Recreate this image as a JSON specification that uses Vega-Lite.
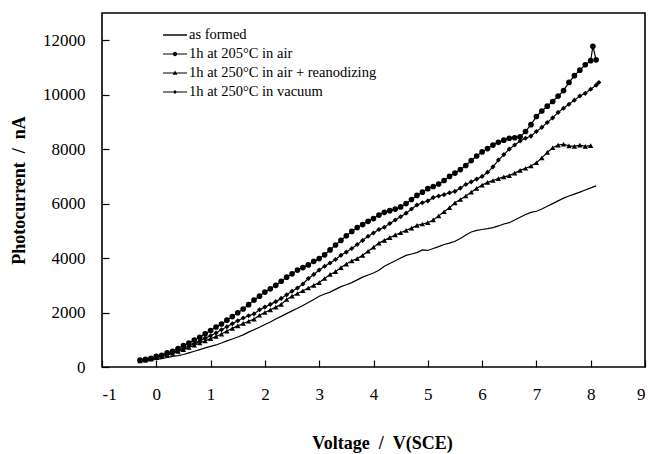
{
  "$schema": "https://vega.github.io/schema/vega-lite/v6.json",
  "width": 543,
  "height": 354,
  "autosize": {"type": "none"},
  "padding": {"left": 102, "top": 13, "right": 5, "bottom": 87},
  "background": "white",
  "config": {
    "font": "Liberation Serif",
    "view": {"stroke": "black", "strokeWidth": 1.6},
    "axis": {
      "grid": false, "domain": false, "tickColor": "black", "tickSize": -7, "tickWidth": 1.2,
      "labelFont": "Liberation Serif", "labelFontSize": 17, "labelColor": "black",
      "titleFont": "Liberation Serif", "titleFontSize": 18, "titleFontWeight": "bold", "titleColor": "black"
    }
  },
  "datasets": {
    "pts": [
      {"s":"as formed","v":-0.3,"i":200},{"s":"as formed","v":-0.2,"i":220},{"s":"as formed","v":-0.1,"i":250},{"s":"as formed","v":0,"i":280},{"s":"as formed","v":0.1,"i":310},{"s":"as formed","v":0.2,"i":350},{"s":"as formed","v":0.3,"i":390},{"s":"as formed","v":0.4,"i":420},{"s":"as formed","v":0.5,"i":460},{"s":"as formed","v":0.6,"i":520},{"s":"as formed","v":0.7,"i":580},{"s":"as formed","v":0.8,"i":640},{"s":"as formed","v":0.9,"i":700},{"s":"as formed","v":1.0,"i":760},{"s":"as formed","v":1.1,"i":810},{"s":"as formed","v":1.2,"i":880},{"s":"as formed","v":1.3,"i":960},{"s":"as formed","v":1.4,"i":1030},{"s":"as formed","v":1.5,"i":1100},{"s":"as formed","v":1.6,"i":1180},{"s":"as formed","v":1.7,"i":1280},{"s":"as formed","v":1.8,"i":1370},{"s":"as formed","v":1.9,"i":1460},{"s":"as formed","v":2.0,"i":1560},{"s":"as formed","v":2.1,"i":1650},{"s":"as formed","v":2.2,"i":1760},{"s":"as formed","v":2.3,"i":1860},{"s":"as formed","v":2.4,"i":1960},{"s":"as formed","v":2.5,"i":2060},{"s":"as formed","v":2.6,"i":2160},{"s":"as formed","v":2.7,"i":2260},{"s":"as formed","v":2.8,"i":2370},{"s":"as formed","v":2.9,"i":2480},{"s":"as formed","v":3.0,"i":2600},{"s":"as formed","v":3.1,"i":2680},{"s":"as formed","v":3.2,"i":2750},{"s":"as formed","v":3.3,"i":2850},{"s":"as formed","v":3.4,"i":2950},{"s":"as formed","v":3.5,"i":3020},{"s":"as formed","v":3.6,"i":3100},{"s":"as formed","v":3.7,"i":3200},{"s":"as formed","v":3.8,"i":3300},{"s":"as formed","v":3.9,"i":3380},{"s":"as formed","v":4.0,"i":3450},{"s":"as formed","v":4.1,"i":3550},{"s":"as formed","v":4.2,"i":3700},{"s":"as formed","v":4.3,"i":3800},{"s":"as formed","v":4.4,"i":3900},{"s":"as formed","v":4.5,"i":4000},{"s":"as formed","v":4.6,"i":4100},{"s":"as formed","v":4.7,"i":4150},{"s":"as formed","v":4.8,"i":4200},{"s":"as formed","v":4.9,"i":4300},{"s":"as formed","v":5.0,"i":4280},{"s":"as formed","v":5.1,"i":4350},{"s":"as formed","v":5.2,"i":4420},{"s":"as formed","v":5.3,"i":4500},{"s":"as formed","v":5.4,"i":4550},{"s":"as formed","v":5.5,"i":4620},{"s":"as formed","v":5.6,"i":4720},{"s":"as formed","v":5.7,"i":4850},{"s":"as formed","v":5.8,"i":4960},{"s":"as formed","v":5.9,"i":5020},{"s":"as formed","v":6.0,"i":5050},{"s":"as formed","v":6.1,"i":5080},{"s":"as formed","v":6.2,"i":5120},{"s":"as formed","v":6.3,"i":5180},{"s":"as formed","v":6.4,"i":5250},{"s":"as formed","v":6.5,"i":5300},{"s":"as formed","v":6.6,"i":5400},{"s":"as formed","v":6.7,"i":5500},{"s":"as formed","v":6.8,"i":5600},{"s":"as formed","v":6.9,"i":5680},{"s":"as formed","v":7.0,"i":5720},{"s":"as formed","v":7.1,"i":5800},{"s":"as formed","v":7.2,"i":5900},{"s":"as formed","v":7.3,"i":6000},{"s":"as formed","v":7.4,"i":6100},{"s":"as formed","v":7.5,"i":6200},{"s":"as formed","v":7.6,"i":6280},{"s":"as formed","v":7.7,"i":6350},{"s":"as formed","v":7.8,"i":6420},{"s":"as formed","v":7.9,"i":6500},{"s":"as formed","v":8.0,"i":6580},{"s":"as formed","v":8.1,"i":6650},

      {"s":"1h at 205°C in air","v":-0.3,"i":250},{"s":"1h at 205°C in air","v":-0.2,"i":280},{"s":"1h at 205°C in air","v":-0.1,"i":320},{"s":"1h at 205°C in air","v":0,"i":390},{"s":"1h at 205°C in air","v":0.1,"i":430},{"s":"1h at 205°C in air","v":0.2,"i":520},{"s":"1h at 205°C in air","v":0.3,"i":580},{"s":"1h at 205°C in air","v":0.4,"i":680},{"s":"1h at 205°C in air","v":0.5,"i":790},{"s":"1h at 205°C in air","v":0.6,"i":880},{"s":"1h at 205°C in air","v":0.7,"i":990},{"s":"1h at 205°C in air","v":0.8,"i":1090},{"s":"1h at 205°C in air","v":0.9,"i":1220},{"s":"1h at 205°C in air","v":1.0,"i":1340},{"s":"1h at 205°C in air","v":1.1,"i":1470},{"s":"1h at 205°C in air","v":1.2,"i":1580},{"s":"1h at 205°C in air","v":1.3,"i":1720},{"s":"1h at 205°C in air","v":1.4,"i":1850},{"s":"1h at 205°C in air","v":1.5,"i":1990},{"s":"1h at 205°C in air","v":1.6,"i":2130},{"s":"1h at 205°C in air","v":1.7,"i":2290},{"s":"1h at 205°C in air","v":1.8,"i":2460},{"s":"1h at 205°C in air","v":1.9,"i":2600},{"s":"1h at 205°C in air","v":2.0,"i":2750},{"s":"1h at 205°C in air","v":2.1,"i":2870},{"s":"1h at 205°C in air","v":2.2,"i":3000},{"s":"1h at 205°C in air","v":2.3,"i":3150},{"s":"1h at 205°C in air","v":2.4,"i":3300},{"s":"1h at 205°C in air","v":2.5,"i":3420},{"s":"1h at 205°C in air","v":2.6,"i":3560},{"s":"1h at 205°C in air","v":2.7,"i":3650},{"s":"1h at 205°C in air","v":2.8,"i":3750},{"s":"1h at 205°C in air","v":2.9,"i":3880},{"s":"1h at 205°C in air","v":3.0,"i":3980},{"s":"1h at 205°C in air","v":3.1,"i":4120},{"s":"1h at 205°C in air","v":3.2,"i":4300},{"s":"1h at 205°C in air","v":3.3,"i":4480},{"s":"1h at 205°C in air","v":3.4,"i":4650},{"s":"1h at 205°C in air","v":3.5,"i":4820},{"s":"1h at 205°C in air","v":3.6,"i":4980},{"s":"1h at 205°C in air","v":3.7,"i":5120},{"s":"1h at 205°C in air","v":3.8,"i":5230},{"s":"1h at 205°C in air","v":3.9,"i":5350},{"s":"1h at 205°C in air","v":4.0,"i":5450},{"s":"1h at 205°C in air","v":4.1,"i":5580},{"s":"1h at 205°C in air","v":4.2,"i":5680},{"s":"1h at 205°C in air","v":4.3,"i":5740},{"s":"1h at 205°C in air","v":4.4,"i":5800},{"s":"1h at 205°C in air","v":4.5,"i":5880},{"s":"1h at 205°C in air","v":4.6,"i":6000},{"s":"1h at 205°C in air","v":4.7,"i":6150},{"s":"1h at 205°C in air","v":4.8,"i":6300},{"s":"1h at 205°C in air","v":4.9,"i":6420},{"s":"1h at 205°C in air","v":5.0,"i":6550},{"s":"1h at 205°C in air","v":5.1,"i":6630},{"s":"1h at 205°C in air","v":5.2,"i":6720},{"s":"1h at 205°C in air","v":5.3,"i":6850},{"s":"1h at 205°C in air","v":5.4,"i":7000},{"s":"1h at 205°C in air","v":5.5,"i":7120},{"s":"1h at 205°C in air","v":5.6,"i":7250},{"s":"1h at 205°C in air","v":5.7,"i":7400},{"s":"1h at 205°C in air","v":5.8,"i":7580},{"s":"1h at 205°C in air","v":5.9,"i":7750},{"s":"1h at 205°C in air","v":6.0,"i":7900},{"s":"1h at 205°C in air","v":6.1,"i":8020},{"s":"1h at 205°C in air","v":6.2,"i":8150},{"s":"1h at 205°C in air","v":6.3,"i":8250},{"s":"1h at 205°C in air","v":6.4,"i":8330},{"s":"1h at 205°C in air","v":6.5,"i":8400},{"s":"1h at 205°C in air","v":6.6,"i":8420},{"s":"1h at 205°C in air","v":6.7,"i":8450},{"s":"1h at 205°C in air","v":6.8,"i":8650},{"s":"1h at 205°C in air","v":6.9,"i":8900},{"s":"1h at 205°C in air","v":7.0,"i":9200},{"s":"1h at 205°C in air","v":7.1,"i":9400},{"s":"1h at 205°C in air","v":7.2,"i":9580},{"s":"1h at 205°C in air","v":7.3,"i":9750},{"s":"1h at 205°C in air","v":7.4,"i":9950},{"s":"1h at 205°C in air","v":7.5,"i":10150},{"s":"1h at 205°C in air","v":7.6,"i":10450},{"s":"1h at 205°C in air","v":7.7,"i":10700},{"s":"1h at 205°C in air","v":7.8,"i":10900},{"s":"1h at 205°C in air","v":7.9,"i":11100},{"s":"1h at 205°C in air","v":8.0,"i":11250},{"s":"1h at 205°C in air","v":8.04,"i":11780},{"s":"1h at 205°C in air","v":8.1,"i":11280},

      {"s":"1h at 250°C in air + reanodizing","v":-0.3,"i":220},{"s":"1h at 250°C in air + reanodizing","v":-0.2,"i":250},{"s":"1h at 250°C in air + reanodizing","v":-0.1,"i":290},{"s":"1h at 250°C in air + reanodizing","v":0,"i":340},{"s":"1h at 250°C in air + reanodizing","v":0.1,"i":390},{"s":"1h at 250°C in air + reanodizing","v":0.2,"i":440},{"s":"1h at 250°C in air + reanodizing","v":0.3,"i":500},{"s":"1h at 250°C in air + reanodizing","v":0.4,"i":570},{"s":"1h at 250°C in air + reanodizing","v":0.5,"i":640},{"s":"1h at 250°C in air + reanodizing","v":0.6,"i":720},{"s":"1h at 250°C in air + reanodizing","v":0.7,"i":800},{"s":"1h at 250°C in air + reanodizing","v":0.8,"i":880},{"s":"1h at 250°C in air + reanodizing","v":0.9,"i":960},{"s":"1h at 250°C in air + reanodizing","v":1.0,"i":1040},{"s":"1h at 250°C in air + reanodizing","v":1.1,"i":1120},{"s":"1h at 250°C in air + reanodizing","v":1.2,"i":1210},{"s":"1h at 250°C in air + reanodizing","v":1.3,"i":1320},{"s":"1h at 250°C in air + reanodizing","v":1.4,"i":1420},{"s":"1h at 250°C in air + reanodizing","v":1.5,"i":1510},{"s":"1h at 250°C in air + reanodizing","v":1.6,"i":1600},{"s":"1h at 250°C in air + reanodizing","v":1.7,"i":1680},{"s":"1h at 250°C in air + reanodizing","v":1.8,"i":1760},{"s":"1h at 250°C in air + reanodizing","v":1.9,"i":1900},{"s":"1h at 250°C in air + reanodizing","v":2.0,"i":2000},{"s":"1h at 250°C in air + reanodizing","v":2.1,"i":2100},{"s":"1h at 250°C in air + reanodizing","v":2.2,"i":2200},{"s":"1h at 250°C in air + reanodizing","v":2.3,"i":2300},{"s":"1h at 250°C in air + reanodizing","v":2.4,"i":2480},{"s":"1h at 250°C in air + reanodizing","v":2.5,"i":2600},{"s":"1h at 250°C in air + reanodizing","v":2.6,"i":2700},{"s":"1h at 250°C in air + reanodizing","v":2.7,"i":2800},{"s":"1h at 250°C in air + reanodizing","v":2.8,"i":2900},{"s":"1h at 250°C in air + reanodizing","v":2.9,"i":3000},{"s":"1h at 250°C in air + reanodizing","v":3.0,"i":3100},{"s":"1h at 250°C in air + reanodizing","v":3.1,"i":3250},{"s":"1h at 250°C in air + reanodizing","v":3.2,"i":3400},{"s":"1h at 250°C in air + reanodizing","v":3.3,"i":3500},{"s":"1h at 250°C in air + reanodizing","v":3.4,"i":3650},{"s":"1h at 250°C in air + reanodizing","v":3.5,"i":3780},{"s":"1h at 250°C in air + reanodizing","v":3.6,"i":3900},{"s":"1h at 250°C in air + reanodizing","v":3.7,"i":3980},{"s":"1h at 250°C in air + reanodizing","v":3.8,"i":4100},{"s":"1h at 250°C in air + reanodizing","v":3.9,"i":4250},{"s":"1h at 250°C in air + reanodizing","v":4.0,"i":4400},{"s":"1h at 250°C in air + reanodizing","v":4.1,"i":4550},{"s":"1h at 250°C in air + reanodizing","v":4.2,"i":4650},{"s":"1h at 250°C in air + reanodizing","v":4.3,"i":4750},{"s":"1h at 250°C in air + reanodizing","v":4.4,"i":4850},{"s":"1h at 250°C in air + reanodizing","v":4.5,"i":4930},{"s":"1h at 250°C in air + reanodizing","v":4.6,"i":5020},{"s":"1h at 250°C in air + reanodizing","v":4.7,"i":5100},{"s":"1h at 250°C in air + reanodizing","v":4.8,"i":5200},{"s":"1h at 250°C in air + reanodizing","v":4.9,"i":5250},{"s":"1h at 250°C in air + reanodizing","v":5.0,"i":5300},{"s":"1h at 250°C in air + reanodizing","v":5.1,"i":5400},{"s":"1h at 250°C in air + reanodizing","v":5.2,"i":5550},{"s":"1h at 250°C in air + reanodizing","v":5.3,"i":5700},{"s":"1h at 250°C in air + reanodizing","v":5.4,"i":5850},{"s":"1h at 250°C in air + reanodizing","v":5.5,"i":6030},{"s":"1h at 250°C in air + reanodizing","v":5.6,"i":6150},{"s":"1h at 250°C in air + reanodizing","v":5.7,"i":6280},{"s":"1h at 250°C in air + reanodizing","v":5.8,"i":6420},{"s":"1h at 250°C in air + reanodizing","v":5.9,"i":6560},{"s":"1h at 250°C in air + reanodizing","v":6.0,"i":6680},{"s":"1h at 250°C in air + reanodizing","v":6.1,"i":6780},{"s":"1h at 250°C in air + reanodizing","v":6.2,"i":6850},{"s":"1h at 250°C in air + reanodizing","v":6.3,"i":6920},{"s":"1h at 250°C in air + reanodizing","v":6.4,"i":6980},{"s":"1h at 250°C in air + reanodizing","v":6.5,"i":7030},{"s":"1h at 250°C in air + reanodizing","v":6.6,"i":7120},{"s":"1h at 250°C in air + reanodizing","v":6.7,"i":7220},{"s":"1h at 250°C in air + reanodizing","v":6.8,"i":7300},{"s":"1h at 250°C in air + reanodizing","v":6.9,"i":7380},{"s":"1h at 250°C in air + reanodizing","v":7.0,"i":7500},{"s":"1h at 250°C in air + reanodizing","v":7.1,"i":7680},{"s":"1h at 250°C in air + reanodizing","v":7.2,"i":7880},{"s":"1h at 250°C in air + reanodizing","v":7.3,"i":8050},{"s":"1h at 250°C in air + reanodizing","v":7.4,"i":8150},{"s":"1h at 250°C in air + reanodizing","v":7.5,"i":8180},{"s":"1h at 250°C in air + reanodizing","v":7.6,"i":8120},{"s":"1h at 250°C in air + reanodizing","v":7.7,"i":8100},{"s":"1h at 250°C in air + reanodizing","v":7.8,"i":8150},{"s":"1h at 250°C in air + reanodizing","v":7.9,"i":8100},{"s":"1h at 250°C in air + reanodizing","v":8.0,"i":8130},

      {"s":"1h at 250°C in vacuum","v":-0.3,"i":230},{"s":"1h at 250°C in vacuum","v":-0.2,"i":260},{"s":"1h at 250°C in vacuum","v":-0.1,"i":300},{"s":"1h at 250°C in vacuum","v":0,"i":350},{"s":"1h at 250°C in vacuum","v":0.1,"i":400},{"s":"1h at 250°C in vacuum","v":0.2,"i":460},{"s":"1h at 250°C in vacuum","v":0.3,"i":520},{"s":"1h at 250°C in vacuum","v":0.4,"i":600},{"s":"1h at 250°C in vacuum","v":0.5,"i":690},{"s":"1h at 250°C in vacuum","v":0.6,"i":770},{"s":"1h at 250°C in vacuum","v":0.7,"i":860},{"s":"1h at 250°C in vacuum","v":0.8,"i":950},{"s":"1h at 250°C in vacuum","v":0.9,"i":1060},{"s":"1h at 250°C in vacuum","v":1.0,"i":1150},{"s":"1h at 250°C in vacuum","v":1.1,"i":1250},{"s":"1h at 250°C in vacuum","v":1.2,"i":1370},{"s":"1h at 250°C in vacuum","v":1.3,"i":1480},{"s":"1h at 250°C in vacuum","v":1.4,"i":1590},{"s":"1h at 250°C in vacuum","v":1.5,"i":1700},{"s":"1h at 250°C in vacuum","v":1.6,"i":1800},{"s":"1h at 250°C in vacuum","v":1.7,"i":1880},{"s":"1h at 250°C in vacuum","v":1.8,"i":1950},{"s":"1h at 250°C in vacuum","v":1.9,"i":2100},{"s":"1h at 250°C in vacuum","v":2.0,"i":2200},{"s":"1h at 250°C in vacuum","v":2.1,"i":2300},{"s":"1h at 250°C in vacuum","v":2.2,"i":2400},{"s":"1h at 250°C in vacuum","v":2.3,"i":2520},{"s":"1h at 250°C in vacuum","v":2.4,"i":2650},{"s":"1h at 250°C in vacuum","v":2.5,"i":2780},{"s":"1h at 250°C in vacuum","v":2.6,"i":2900},{"s":"1h at 250°C in vacuum","v":2.7,"i":3050},{"s":"1h at 250°C in vacuum","v":2.8,"i":3250},{"s":"1h at 250°C in vacuum","v":2.9,"i":3400},{"s":"1h at 250°C in vacuum","v":3.0,"i":3560},{"s":"1h at 250°C in vacuum","v":3.1,"i":3700},{"s":"1h at 250°C in vacuum","v":3.2,"i":3820},{"s":"1h at 250°C in vacuum","v":3.3,"i":3950},{"s":"1h at 250°C in vacuum","v":3.4,"i":4100},{"s":"1h at 250°C in vacuum","v":3.5,"i":4220},{"s":"1h at 250°C in vacuum","v":3.6,"i":4350},{"s":"1h at 250°C in vacuum","v":3.7,"i":4500},{"s":"1h at 250°C in vacuum","v":3.8,"i":4650},{"s":"1h at 250°C in vacuum","v":3.9,"i":4800},{"s":"1h at 250°C in vacuum","v":4.0,"i":4920},{"s":"1h at 250°C in vacuum","v":4.1,"i":5050},{"s":"1h at 250°C in vacuum","v":4.2,"i":5130},{"s":"1h at 250°C in vacuum","v":4.3,"i":5270},{"s":"1h at 250°C in vacuum","v":4.4,"i":5400},{"s":"1h at 250°C in vacuum","v":4.5,"i":5520},{"s":"1h at 250°C in vacuum","v":4.6,"i":5650},{"s":"1h at 250°C in vacuum","v":4.7,"i":5800},{"s":"1h at 250°C in vacuum","v":4.8,"i":5950},{"s":"1h at 250°C in vacuum","v":4.9,"i":6030},{"s":"1h at 250°C in vacuum","v":5.0,"i":6100},{"s":"1h at 250°C in vacuum","v":5.1,"i":6220},{"s":"1h at 250°C in vacuum","v":5.2,"i":6280},{"s":"1h at 250°C in vacuum","v":5.3,"i":6330},{"s":"1h at 250°C in vacuum","v":5.4,"i":6400},{"s":"1h at 250°C in vacuum","v":5.5,"i":6450},{"s":"1h at 250°C in vacuum","v":5.6,"i":6570},{"s":"1h at 250°C in vacuum","v":5.7,"i":6700},{"s":"1h at 250°C in vacuum","v":5.8,"i":6800},{"s":"1h at 250°C in vacuum","v":5.9,"i":6900},{"s":"1h at 250°C in vacuum","v":6.0,"i":7000},{"s":"1h at 250°C in vacuum","v":6.1,"i":7150},{"s":"1h at 250°C in vacuum","v":6.2,"i":7350},{"s":"1h at 250°C in vacuum","v":6.3,"i":7600},{"s":"1h at 250°C in vacuum","v":6.4,"i":7800},{"s":"1h at 250°C in vacuum","v":6.5,"i":8000},{"s":"1h at 250°C in vacuum","v":6.6,"i":8150},{"s":"1h at 250°C in vacuum","v":6.7,"i":8300},{"s":"1h at 250°C in vacuum","v":6.8,"i":8400},{"s":"1h at 250°C in vacuum","v":6.9,"i":8480},{"s":"1h at 250°C in vacuum","v":7.0,"i":8650},{"s":"1h at 250°C in vacuum","v":7.1,"i":8800},{"s":"1h at 250°C in vacuum","v":7.2,"i":8980},{"s":"1h at 250°C in vacuum","v":7.3,"i":9150},{"s":"1h at 250°C in vacuum","v":7.4,"i":9350},{"s":"1h at 250°C in vacuum","v":7.5,"i":9500},{"s":"1h at 250°C in vacuum","v":7.6,"i":9650},{"s":"1h at 250°C in vacuum","v":7.7,"i":9800},{"s":"1h at 250°C in vacuum","v":7.8,"i":9950},{"s":"1h at 250°C in vacuum","v":7.9,"i":10050},{"s":"1h at 250°C in vacuum","v":8.0,"i":10200},{"s":"1h at 250°C in vacuum","v":8.1,"i":10350},{"s":"1h at 250°C in vacuum","v":8.15,"i":10450}
    ]
  },
  "data": {"name": "pts"},
  "encoding": {
    "x": {
      "field": "v", "type": "quantitative",
      "scale": {"domain": [-1, 9], "nice": false, "zero": false},
      "axis": {
        "title": "Voltage\u00a0\u00a0/\u00a0\u00a0V(SCE)",
        "values": [-1, 0, 1, 2, 3, 4, 5, 6, 7, 8, 9],
        "labelExpr": "'' + datum.value",
        "labelFont": "Liberation Serif",
        "titleFont": "Liberation Serif",
        "labelPadding": 26,
        "titlePadding": 32,
        "titleX": 280
      }
    },
    "y": {
      "field": "i", "type": "quantitative",
      "scale": {"domain": [0, 13000], "nice": false},
      "axis": {
        "title": "Photocurrent\u00a0\u00a0/\u00a0\u00a0nA",
        "values": [0, 2000, 4000, 6000, 8000, 10000, 12000],
        "format": "d",
        "labelFont": "Liberation Serif",
        "titleFont": "Liberation Serif",
        "labelPadding": 24,
        "titlePadding": 14
      }
    }
  },
  "layer": [
    {
      "mark": {"type": "line", "color": "black", "strokeWidth": 1.2},
      "encoding": {"detail": {"field": "s"}}
    },
    {
      "transform": [{"filter": "datum.s != 'as formed'"}],
      "mark": {"type": "point", "filled": true, "color": "black", "opacity": 1},
      "encoding": {
        "shape": {
          "field": "s", "type": "nominal",
          "scale": {
            "domain": ["1h at 205°C in air", "1h at 250°C in air + reanodizing", "1h at 250°C in vacuum"],
            "range": ["circle", "triangle-up", "diamond"]
          },
          "legend": null
        },
        "size": {
          "field": "s", "type": "nominal",
          "scale": {
            "domain": ["1h at 205°C in air", "1h at 250°C in air + reanodizing", "1h at 250°C in vacuum"],
            "range": [32, 26, 20]
          },
          "legend": null
        }
      }
    },
    {
      "transform": [{"filter": "datum.i < 0"}],
      "mark": {"type": "point", "filled": true, "color": "black", "opacity": 1},
      "encoding": {
        "shape": {
          "field": "s", "type": "nominal",
          "scale": {
            "domain": ["as formed", "1h at 205°C in air", "1h at 250°C in air + reanodizing", "1h at 250°C in vacuum"],
            "range": [
              "M-1,-0.06L1,-0.06L1,0.06L-1,0.06Z",
              "M-1,-0.05L1,-0.05L1,0.05L-1,0.05ZM0.18,0A0.18,0.18,0,1,1,-0.18,0A0.18,0.18,0,1,1,0.18,0Z",
              "M-1,-0.05L1,-0.05L1,0.05L-1,0.05ZM0,-0.2L0.2,0.14L-0.2,0.14Z",
              "M-1,-0.05L1,-0.05L1,0.05L-1,0.05ZM0,-0.17L0.17,0L0,0.17L-0.17,0Z"
            ]
          },
          "legend": {
            "title": null,
            "orient": "none",
            "legendX": 61,
            "legendY": 10,
            "symbolSize": 576,
            "symbolStrokeWidth": 0,
            "symbolFillColor": "black",
            "symbolOpacity": 1,
            "labelFont": "Liberation Serif",
            "labelFontSize": 14.5,
            "labelColor": "black",
            "labelOffset": 2,
            "labelLimit": 400,
            "rowPadding": -3
          }
        }
      }
    }
  ],
  "resolve": {"scale": {"shape": "independent", "size": "independent"}, "legend": {"shape": "independent"}}
}
